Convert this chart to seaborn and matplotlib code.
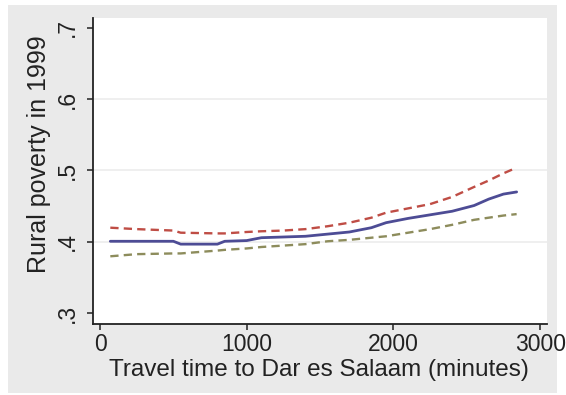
import matplotlib
matplotlib.use("Agg")
import matplotlib.pyplot as plt
import matplotlib.patches as mpatches
import numpy as np
import pandas as pd
import seaborn as sns

# Travel time grid (minutes) and smoothed poverty rate with its confidence band
travel_time = [70, 250, 500, 550, 800, 850, 1000, 1100, 1250, 1400, 1550,
               1700, 1850, 1950, 2100, 2250, 2400, 2550, 2650, 2750, 2840]
poverty_fit = [0.401, 0.401, 0.401, 0.397, 0.397, 0.401, 0.402, 0.406, 0.407,
               0.408, 0.411, 0.414, 0.420, 0.427, 0.433, 0.438, 0.443, 0.451,
               0.460, 0.467, 0.470]
poverty_upper = [0.420, 0.418, 0.416, 0.413, 0.412, 0.412, 0.414, 0.415, 0.416,
                 0.418, 0.422, 0.427, 0.434, 0.441, 0.447, 0.453, 0.463, 0.477,
                 0.486, 0.496, 0.504]
poverty_lower = [0.380, 0.383, 0.384, 0.384, 0.388, 0.389, 0.391, 0.393, 0.395,
                 0.397, 0.401, 0.403, 0.406, 0.408, 0.413, 0.418, 0.424, 0.431,
                 0.434, 0.437, 0.439]

x_ticks = [0, 1000, 2000, 3000]
x_tick_labels = ["0", "1000", "2000", "3000"]
y_ticks = [0.3, 0.4, 0.5, 0.6, 0.7]
y_tick_labels = [".3", ".4", ".5", ".6", ".7"]

sns.set_style("white")
plt.rcParams["font.family"] = ["Liberation Sans", "DejaVu Sans"]

fig = plt.figure(figsize=(5.66, 3.95), dpi=100, facecolor="white")
# light grey graph region behind the white plot region
fig.add_artist(mpatches.Rectangle((8 / 566, 1 - 393 / 395), 549 / 566, 388 / 395,
                                  transform=fig.transFigure, facecolor="#eaeaea",
                                  edgecolor="none", zorder=-5))
ax = fig.add_axes([93 / 566, 1 - 324 / 395, 454 / 566, 306 / 395])
ax.set_zorder(2)
ax.set_facecolor("white")

df = pd.DataFrame({"time": travel_time, "fit": poverty_fit,
                   "upper": poverty_upper, "lower": poverty_lower})

for yy in [0.4, 0.5, 0.6]:
    ax.axhline(yy, color="#eeeeee", lw=1.3, zorder=1)

sns.lineplot(data=df, x="time", y="upper", ax=ax, color="#bf4d45", lw=1.7,
             linestyle=(0, (3.5, 2.2)), zorder=3)
sns.lineplot(data=df, x="time", y="lower", ax=ax, color="#8d8c5c", lw=1.7,
             linestyle=(0, (3.5, 2.2)), zorder=3)
sns.lineplot(data=df, x="time", y="fit", ax=ax, color="#4d4c95", lw=2.0, zorder=4)

ax.set_xlim(-48, 3047)
ax.set_ylim(0.2853, 0.7133)
ax.set_xticks(x_ticks)
ax.set_xticklabels(x_tick_labels)
ax.set_yticks(y_ticks)
ax.set_yticklabels(y_tick_labels, rotation=90, va="center")

for side in ["top", "right"]:
    ax.spines[side].set_visible(False)
for side in ["left", "bottom"]:
    ax.spines[side].set_color("#222222")
    ax.spines[side].set_linewidth(1.3)

ax.tick_params(axis="both", direction="out", length=4, width=1.1, color="#222222",
               labelsize=16.5, labelcolor="#222222", left=True, bottom=True)
ax.tick_params(axis="x", pad=2.5)
ax.tick_params(axis="y", pad=6)

ax.set_xlabel("Travel time to Dar es Salaam (minutes)", fontsize=17.5,
              color="#222222")
ax.xaxis.set_label_coords(0.498, -0.113)
ax.set_ylabel("Rural poverty in 1999", fontsize=18, color="#222222")
ax.yaxis.set_label_coords(-0.092, 0.556)

fig.savefig("out.png", dpi=100, facecolor=fig.get_facecolor())
